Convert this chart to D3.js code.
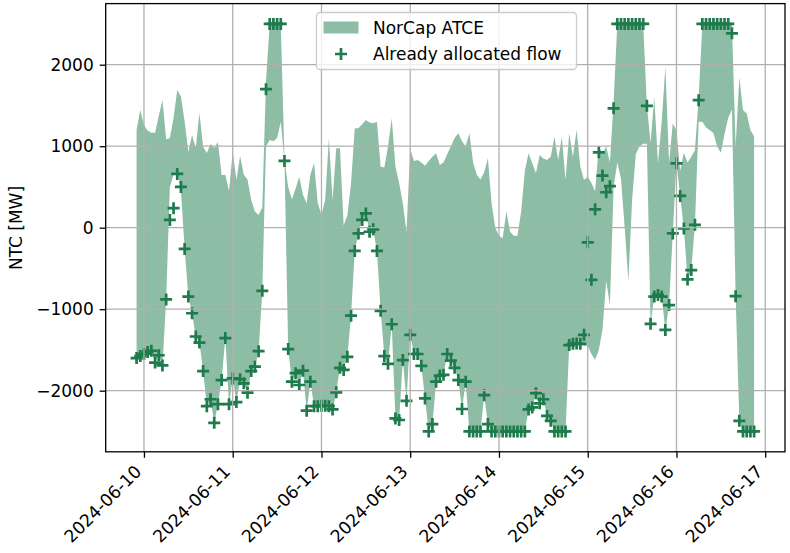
<!DOCTYPE html>
<html><head><meta charset="utf-8">
<script src="https://cdn.jsdelivr.net/npm/d3@7"></script>
<style>body{margin:0;background:#fff}svg{display:block}text{font-family:"DejaVu Sans",sans-serif}</style>
</head><body><svg id="c" width="790" height="553"></svg>
<script>
const startTime = "2024-06-09T22:00:00Z";
const upperATCE = [1200,1444,1260,1190,1166,1166,1370,1567,1085,1100,1346,1690,1610,1300,930,1137,977,1407,994,916,1027,977,1050,647,
647,450,932,585,880,650,590,340,200,155,250,1800,2500,2500,2500,2500,830,500,350,480,625,400,300,650,
795,300,160,340,1097,340,974,974,30,150,550,1220,1220,1270,1322,1290,1281,1300,748,740,1000,1342,750,550,
300,-50,970,820,830,800,760,820,870,913,770,800,900,1000,1100,1158,1060,1000,1158,800,650,590,680,852,
300,0,-100,-130,200,-50,-100,-100,200,700,913,790,667,893,850,830,870,1117,830,1117,585,1158,870,1199,
748,585,625,550,450,1000,900,1000,800,1550,2500,2500,2500,2500,2500,2500,2500,2500,1500,1040,1600,790,1300,1975,
800,1280,1190,700,920,800,870,950,1600,2500,2500,2500,2500,2500,2500,2500,2500,2500,1000,1850,1440,1400,1200,1120];
const lowerATCE = [-1600,-1575,-1550,-1525,-1510,-1655,-1565,-1690,-880,500,650,700,450,-260,-845,-1050,-1335,-1410,-1760,-2190,-2105,-2395,-2165,-1870,
-1355,-2165,-1850,-2140,-1860,-1910,-2025,-1760,-1705,-1515,-775,1000,1075,1060,1100,1300,818,-1490,-1890,-1785,-1930,-1755,-2245,-1890,
-2190,-2190,-2185,-2185,-2190,-2230,-2020,-1720,-1745,-1585,-1080,-285,-70,95,175,-50,-20,-285,-1020,-1575,-1670,-1185,-2340,-2360,
-1625,-2125,-1315,-1550,-1550,-1695,-2095,-2500,-2410,-1890,-1815,-1805,-1550,-1630,-1720,-1870,-2225,-1890,-2500,-2500,-2500,-2500,-2055,-2410,
-2500,-2500,-2500,-2500,-2500,-2500,-2500,-2500,-2500,-2500,-2230,-2205,-2030,-2155,-2105,-2310,-2370,-2500,-2500,-2500,-2500,-1440,-1425,-1420,
-1425,-1450,-1450,-1550,-1620,-1500,-1250,-650,-950,500,800,600,0,-660,340,900,1000,1030,1030,-1180,-845,-825,-845,-1255,
-950,-70,790,390,-10,-635,-520,35,1300,1300,1230,1200,1160,1000,920,1150,1350,1450,-840,-2370,-2500,-2500,-2500,-2500];
const allocatedFlow = [-1600,-1575,-1550,-1525,-1510,-1655,-1565,-1690,-880,95,240,660,500,-260,-845,-1050,-1335,-1410,-1760,-2190,-2105,-2395,-2165,-1870,
-1355,-2165,-1850,-2140,-1860,-1910,-2025,-1760,-1705,-1515,-775,1700,2500,2500,2500,2500,820,-1490,-1890,-1785,-1930,-1755,-2245,-1890,
-2190,-2190,-2185,-2185,-2190,-2230,-2020,-1720,-1745,-1585,-1080,-285,-70,95,175,-50,-20,-285,-1020,-1575,-1670,-1185,-2340,-2360,
-1625,-2125,-1315,-1550,-1550,-1695,-2095,-2500,-2410,-1890,-1815,-1805,-1550,-1630,-1720,-1870,-2225,-1890,-2500,-2500,-2500,-2500,-2055,-2410,
-2500,-2500,-2500,-2500,-2500,-2500,-2500,-2500,-2500,-2500,-2230,-2205,-2030,-2155,-2105,-2310,-2370,-2500,-2500,-2500,-2500,-1440,-1425,-1420,
-1425,-1315,-180,-640,225,925,640,435,510,1465,2500,2500,2500,2500,2500,2500,2500,2500,1495,-1180,-845,-825,-845,-1255,
-950,-70,790,390,-10,-635,-520,35,1565,2500,2500,2500,2500,2500,2500,2500,2500,2385,-840,-2370,-2500,-2500,-2500,-2500];
const yTicks = [-2000,-1000,0,1000,2000];
const xTickLabels = ["2024-06-10","2024-06-11","2024-06-12","2024-06-13","2024-06-14","2024-06-15","2024-06-16","2024-06-17"];
const legendLabels = ["NorCap ATCE","Already allocated flow"];

const green = "#1e7b4c";
const t0 = new Date(startTime);
const times = upperATCE.map((_, i) => new Date(t0.getTime() + i * 3600e3));
const data = times.map((t, i) => ({t, hi: upperATCE[i], lo: lowerATCE[i], f: allocatedFlow[i]}));

const L = 105.7, R = 785, T = 3.6, B = 451.8;
const tMin = times[0].getTime(), tMax = times[times.length - 1].getTime();
const pad = (tMax - tMin) * 0.05;
const x = d3.scaleUtc().domain([new Date(tMin - pad), new Date(tMax + pad)]).range([L, R]);
const y = d3.scaleLinear().domain([-2750, 2750]).range([B, T]);

const svg = d3.select("#c");
svg.append("clipPath").attr("id", "clip").append("rect")
  .attr("x", L).attr("y", T).attr("width", R - L).attr("height", B - T);

const plot = svg.append("g").attr("clip-path", "url(#clip)");
plot.append("path").datum(data)
  .attr("d", d3.area().x(d => x(d.t)).y0(d => y(d.lo)).y1(d => y(d.hi)))
  .attr("fill", green).attr("fill-opacity", 0.5).attr("stroke", "none");

const s = 6;
const plusPath = `M${-s},0H${s}M0,${-s}V${s}`;
plot.selectAll("path.m").data(data).join("path").attr("class", "m")
  .attr("d", plusPath)
  .attr("transform", d => `translate(${x(d.t)},${y(d.f)})`)
  .attr("stroke", green).attr("stroke-width", 2.7).attr("fill", "none");

const tickDates = xTickLabels.map(s => new Date(s + "T00:00:00Z"));
const grid = svg.append("g").attr("stroke", "#b0b0b0").attr("stroke-width", 1.3);
tickDates.forEach(d => grid.append("line").attr("x1", x(d)).attr("x2", x(d)).attr("y1", T).attr("y2", B));
yTicks.forEach(v => grid.append("line").attr("x1", L).attr("x2", R).attr("y1", y(v)).attr("y2", y(v)));

// x axis
const xAxis = d3.axisBottom(x).tickValues(tickDates).tickFormat((d, i) => xTickLabels[i]).tickSize(6).tickPadding(6);
const gx = svg.append("g").attr("transform", `translate(0,${B})`).call(xAxis);
gx.select(".domain").remove();
gx.selectAll(".tick line").attr("stroke", "#000").attr("stroke-width", 1.3);
gx.selectAll(".tick text").attr("font-size", 17.3).attr("fill", "#000")
  .attr("text-anchor", "end").attr("dy", null).attr("y", 0)
  .attr("transform", "translate(-2,21) rotate(-45)");

// y axis
const yAxis = d3.axisLeft(y).tickValues(yTicks).tickFormat(v => v < 0 ? "\u2212" + Math.abs(v) : String(v)).tickSize(6).tickPadding(6);
const gy = svg.append("g").attr("transform", `translate(${L},0)`).call(yAxis);
gy.select(".domain").remove();
gy.selectAll(".tick line").attr("stroke", "#000").attr("stroke-width", 1.3);
gy.selectAll(".tick text").attr("font-size", 17).attr("fill", "#000");

svg.append("text").attr("transform", "translate(21.5,228) rotate(-90)")
  .attr("text-anchor", "middle").attr("font-size", 17).text("NTC [MW]");

// spines
svg.append("rect").attr("x", L).attr("y", T).attr("width", R - L).attr("height", B - T)
  .attr("fill", "none").attr("stroke", "#000").attr("stroke-width", 1.3);

// legend
const lg = svg.append("g");
lg.append("rect").attr("x", 316.5).attr("y", 12.5).attr("width", 260).attr("height", 57).attr("rx", 3.5)
  .attr("fill", "#fff").attr("fill-opacity", 0.8).attr("stroke", "#cccccc").attr("stroke-width", 1.3);
lg.append("rect").attr("x", 323.5).attr("y", 21.5).attr("width", 35).attr("height", 12)
  .attr("fill", green).attr("fill-opacity", 0.5);
lg.append("path").attr("d", plusPath).attr("transform", "translate(341,54)")
  .attr("stroke", green).attr("stroke-width", 2.7);
lg.append("text").attr("x", 373).attr("y", 33.5).attr("font-size", 17).text(legendLabels[0]);
lg.append("text").attr("x", 373).attr("y", 60).attr("font-size", 17).text(legendLabels[1]);
</script></body></html>
